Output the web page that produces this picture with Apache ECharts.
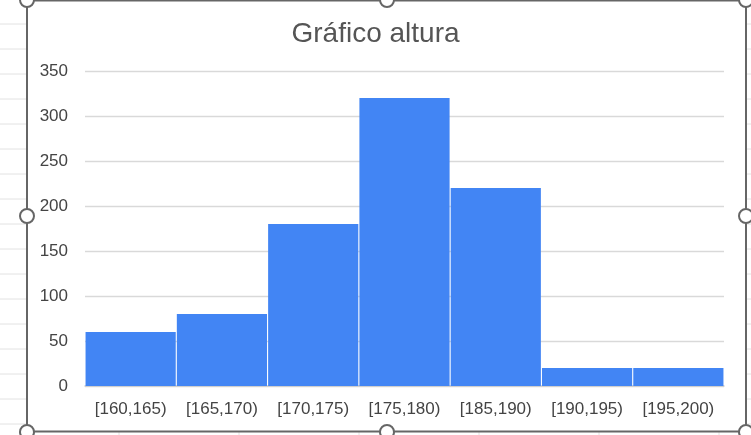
<!DOCTYPE html>
<html>
<head>
<meta charset="utf-8">
<script src="https://cdn.jsdelivr.net/npm/echarts@6/dist/echarts.min.js"></script>
<style>
html,body{margin:0;padding:0;background:#fff;}
#c{width:751px;height:435px;}
</style>
</head>
<body>
<div id="c"></div>
<script>
const categories = ['[160,165)','[165,170)','[170,175)','[175,180)','[185,190)','[190,195)','[195,200)'];
const counts = [60, 80, 180, 320, 220, 20, 20];
const yTicks = [0, 50, 100, 150, 200, 250, 300, 350];
const titleText = 'Gráfico altura';

const chart = echarts.init(document.getElementById('c'), null, {renderer: 'canvas'});

// spreadsheet background lines & selection frame (decoration)
const deco = [];
for (let y = 24; y < 435; y += 25) {
  deco.push({type:'line', shape:{x1:0,y1:y,x2:27,y2:y}, style:{stroke:'#e2e2e2', lineWidth:1}, z:-10});
  deco.push({type:'line', shape:{x1:747,y1:y,x2:751,y2:y}, style:{stroke:'#e2e2e2', lineWidth:1}, z:-10});
}
for (let x = 119; x < 751; x += 120) {
  deco.push({type:'line', shape:{x1:x,y1:432,x2:x,y2:435}, style:{stroke:'#e2e2e2', lineWidth:1}, z:-10});
}
deco.push({type:'rect', shape:{x:27,y:0.5,width:719,height:431}, style:{fill:'#fff', stroke:'#666', lineWidth:2}, z:-5});
const handles = [[27,0],[387,0],[746,0],[27,216],[746,216],[27,432],[387,432],[746,432]];
handles.forEach(p => deco.push({type:'circle', shape:{cx:p[0], cy:p[1], r:7}, style:{fill:'#fff', stroke:'#666', lineWidth:2}, z:100}));

const font = 'Liberation Sans, Arial, sans-serif';

chart.setOption({
  animation: false,
  backgroundColor: '#fff',
  title: {
    text: titleText,
    left: 'center',
    top: 15,
    textStyle: {fontFamily: font, fontSize: 28, fontWeight: 'normal', color: '#555'}
  },
  graphic: deco,
  grid: {left: 85, right: 27, top: 71, bottom: 49, containLabel: false},
  xAxis: {
    type: 'category',
    data: categories,
    axisLine: {show: true, lineStyle: {color: '#ccc', width: 1.5}},
    axisTick: {show: false},
    axisLabel: {color: '#444', fontSize: 17, margin: 15, fontFamily: font, interval: 0}
  },
  yAxis: {
    type: 'value',
    min: yTicks[0],
    max: yTicks[yTicks.length - 1],
    interval: 50,
    axisLine: {show: false},
    axisTick: {show: false},
    axisLabel: {color: '#444', fontSize: 17, margin: 17, fontFamily: font},
    splitLine: {lineStyle: {color: '#d9d9d9', width: 1.3}}
  },
  series: [{
    type: 'bar',
    data: counts,
    barCategoryGap: '1.2%',
    itemStyle: {color: '#4285f4'},
    z: 2
  }]
});
</script>
</body>
</html>
